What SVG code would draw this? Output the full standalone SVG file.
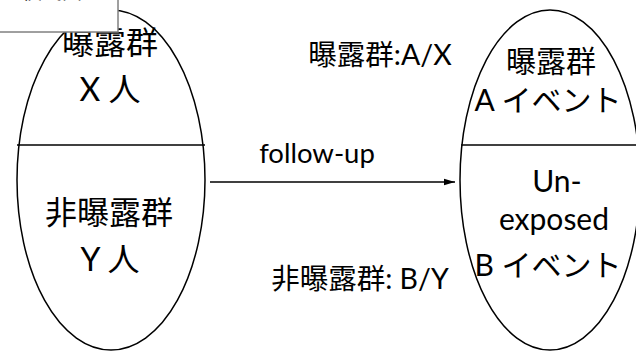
<svg xmlns="http://www.w3.org/2000/svg" width="636" height="353" viewBox="0 0 636 353">
<style>
.e{fill:#fff;stroke:#000;stroke-width:1.5}
.d{stroke:#000;stroke-width:1.5}
.t{font-family:Lato,"Noto Sans CJK JP",sans-serif;fill:#000;text-anchor:middle}
.c{font-size:30px}
.l{font-size:32px}
.m{font-size:28.5px}
</style>
<defs>
<marker id="ah" markerWidth="12" markerHeight="8" refX="11" refY="4" orient="auto" markerUnits="userSpaceOnUse">
<path d="M0,0.8 L11,4 L0,7.2 Z" fill="#000"/>
</marker>
</defs>
<g id="exposed-cohort">
<ellipse class="e" cx="111" cy="180" rx="94" ry="170"/>
<line class="d" x1="17" y1="145" x2="205" y2="145"/>
<text class="t l" x="110" y="54">曝露群</text>
<text class="t l" x="110" y="101">X 人</text>
<text class="t l" x="109" y="224">非曝露群</text>
<text class="t l" x="110" y="271">Y 人</text>
</g>
<g id="outcome">
<ellipse class="e" cx="550" cy="180" rx="90" ry="170"/>
<line class="d" x1="461" y1="145" x2="636" y2="145"/>
<text class="t c" x="551" y="72">曝露群</text>
<text class="t c" x="548" y="111">A イベント</text>
<text class="t c" x="557" y="192">Un-</text>
<text class="t c" x="554" y="230">exposed</text>
<text class="t c" x="548" y="276">B イベント</text>
</g>
<g id="title-box">
<rect x="-2" y="-2" width="120" height="34" fill="#fff" stroke="#808080" stroke-width="1.5"/>
<text class="t" x="52" y="-1" style="font-size:20px">模式図</text>
</g>
<g id="labels">
<text class="t m" x="380" y="65">曝露群:A/X</text>
<text class="t m" x="360" y="289">非曝露群: B/Y</text>
<text class="t" x="317" y="163" style="font-size:27.5px">follow-up</text>
</g>
<g id="connectors">
<line class="d" x1="210" y1="182" x2="455" y2="182" marker-end="url(#ah)"/>
</g>
</svg>
